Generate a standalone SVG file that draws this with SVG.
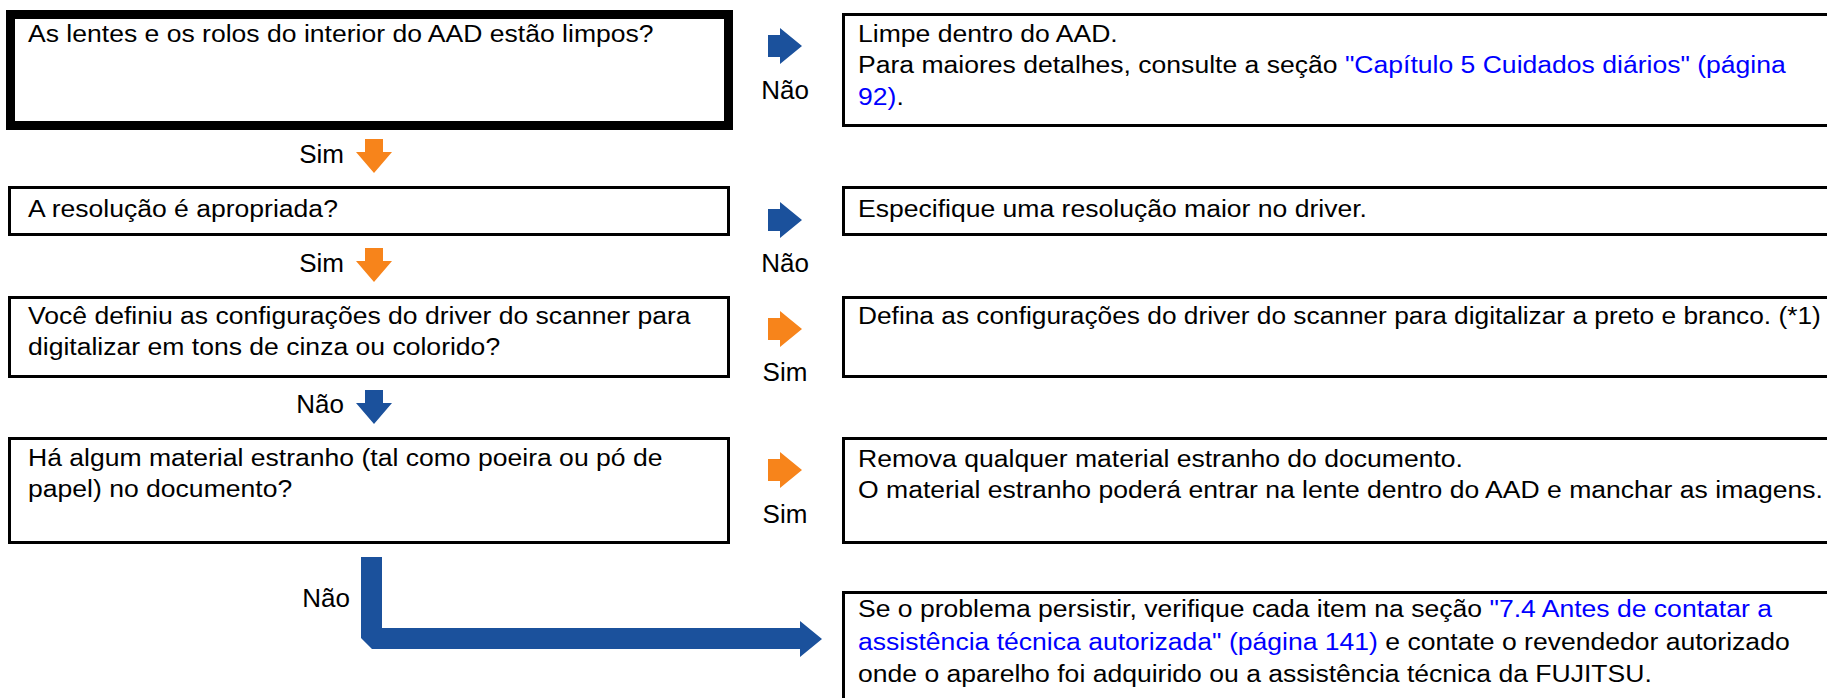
<svg xmlns="http://www.w3.org/2000/svg" width="1827" height="698" viewBox="0 0 1827 698">
<defs>
<style>
.t{font-family:"Liberation Sans",Arial,sans-serif;font-size:23.5px;fill:#000}
.l{font-family:"Liberation Sans",Arial,sans-serif;font-size:26px;fill:#000}
.a{fill:#0000FF}
.box{fill:#fff;stroke:#000;stroke-width:3}
.thick{fill:#fff;stroke:#000;stroke-width:9}
.blue{fill:#1B519C}
.orange{fill:#F7841B}
</style>
<polygon id="arR" points="0,7 12,7 12,0 34,18 12,36 12,29 0,29"/>
<polygon id="arD" points="9,0 27,0 27,13 36,13 18,34 0,13 9,13"/>
</defs>
<rect width="1827" height="698" fill="#fff"/>

<g id="q1">
<rect class="thick" x="10.5" y="14.5" width="718" height="111"/>
<text class="t" transform="scale(1.13 1)" x="24.8" y="42">As lentes e os rolos do interior do AAD estão limpos?</text>
</g>
<g id="r1">
<rect class="box" x="843.5" y="14.5" width="1000" height="111"/>
<text class="t" transform="scale(1.13 1)" x="759.3" y="42">Limpe dentro do AAD.</text>
<text class="t" transform="scale(1.13 1)" x="759.3" y="73.5">Para maiores detalhes, consulte a seção <tspan class="a">"Capítulo 5 Cuidados diários" (página</tspan></text>
<text class="t" transform="scale(1.13 1)" x="759.3" y="105"><tspan class="a">92)</tspan>.</text>
</g>
<g id="q2">
<rect class="box" x="9.5" y="187.5" width="719" height="47"/>
<text class="t" transform="scale(1.13 1)" x="24.8" y="217">A resolução é apropriada?</text>
</g>
<g id="r2">
<rect class="box" x="843.5" y="187.5" width="1000" height="47"/>
<text class="t" transform="scale(1.13 1)" x="759.3" y="217">Especifique uma resolução maior no driver.</text>
</g>
<g id="q3">
<rect class="box" x="9.5" y="297.5" width="719" height="79"/>
<text class="t" transform="scale(1.13 1)" x="24.8" y="324">Você definiu as configurações do driver do scanner para</text>
<text class="t" transform="scale(1.13 1)" x="24.8" y="355">digitalizar em tons de cinza ou colorido?</text>
</g>
<g id="r3">
<rect class="box" x="843.5" y="297.5" width="1000" height="79"/>
<text class="t" transform="scale(1.13 1)" x="759.3" y="324" textLength="852" lengthAdjust="spacingAndGlyphs">Defina as configurações do driver do scanner para digitalizar a preto e branco. (*1)</text>
</g>
<g id="q4">
<rect class="box" x="9.5" y="438.5" width="719" height="104"/>
<text class="t" transform="scale(1.13 1)" x="24.8" y="466">Há algum material estranho (tal como poeira ou pó de</text>
<text class="t" transform="scale(1.13 1)" x="24.8" y="497">papel) no documento?</text>
</g>
<g id="r4">
<rect class="box" x="843.5" y="438.5" width="1000" height="104"/>
<text class="t" transform="scale(1.13 1)" x="759.3" y="467">Remova qualquer material estranho do documento.</text>
<text class="t" transform="scale(1.13 1)" x="759.3" y="498">O material estranho poderá entrar na lente dentro do AAD e manchar as imagens.</text>
</g>
<g id="r5">
<rect class="box" x="843.5" y="592.5" width="1000" height="140"/>
<text class="t" transform="scale(1.13 1)" x="759.3" y="617">Se o problema persistir, verifique cada item na seção <tspan class="a">"7.4 Antes de contatar a</tspan></text>
<text class="t" transform="scale(1.13 1)" x="759.3" y="650"><tspan class="a">assistência técnica autorizada" (página 141)</tspan> e contate o revendedor autorizado</text>
<text class="t" transform="scale(1.13 1)" x="759.3" y="682">onde o aparelho foi adquirido ou a assistência técnica da FUJITSU.</text>
</g>

<g id="connectors">
<use href="#arR" class="blue" x="768" y="28"/>
<text class="l" x="785" y="99" text-anchor="middle">Não</text>
<use href="#arD" class="orange" x="356" y="139"/>
<text class="l" x="344" y="163" text-anchor="end">Sim</text>
<use href="#arR" class="blue" x="768" y="202"/>
<text class="l" x="785" y="272" text-anchor="middle">Não</text>
<use href="#arD" class="orange" x="356" y="248"/>
<text class="l" x="344" y="272" text-anchor="end">Sim</text>
<use href="#arR" class="orange" x="768" y="311"/>
<text class="l" x="785" y="381" text-anchor="middle">Sim</text>
<use href="#arD" class="blue" x="356" y="390"/>
<text class="l" x="344" y="413" text-anchor="end">Não</text>
<use href="#arR" class="orange" x="768" y="452"/>
<text class="l" x="785" y="523" text-anchor="middle">Sim</text>
<polygon class="blue" points="361,557 382,557 382,628 800,628 800,621 822,639 800,657 800,649 372,649 361,638"/>
<text class="l" x="350" y="607" text-anchor="end">Não</text>
</g>
</svg>
